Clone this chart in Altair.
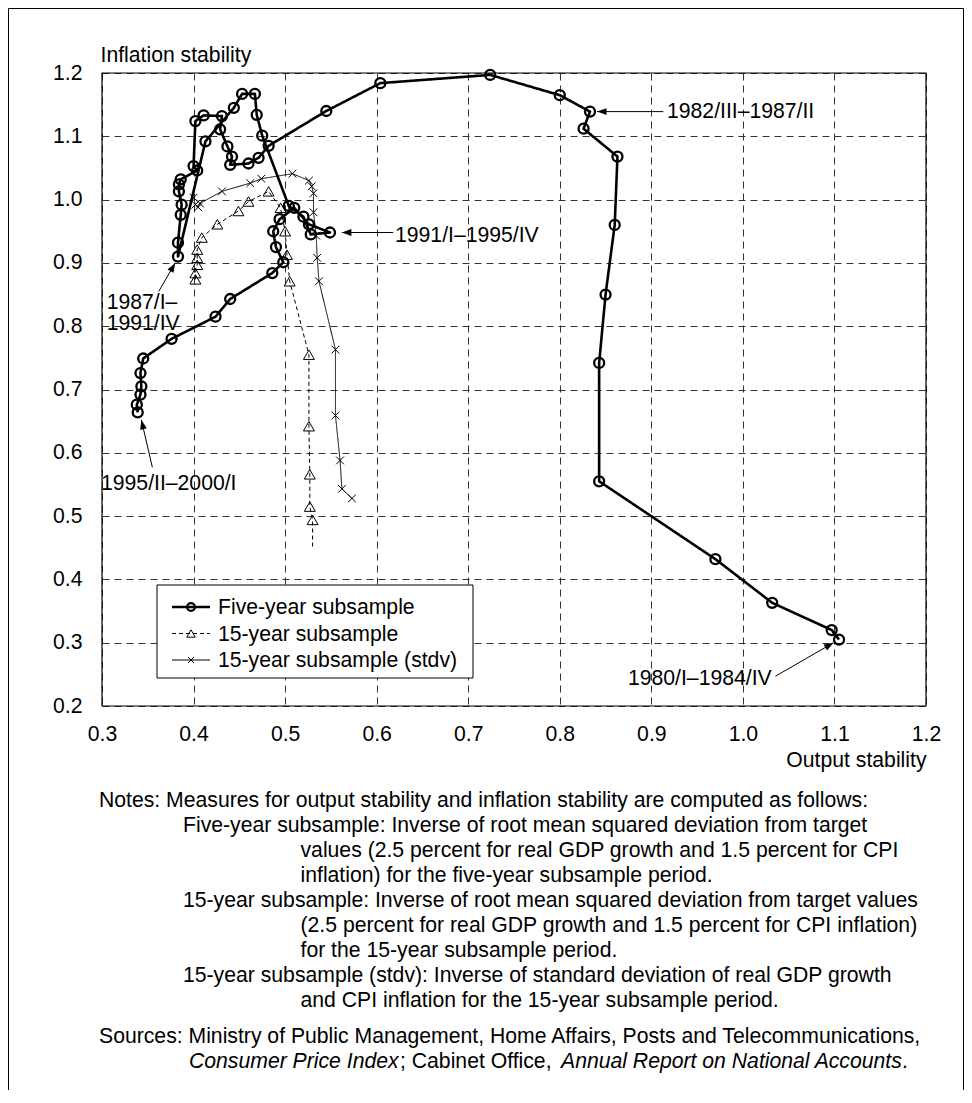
import math
import altair as alt
import pandas as pd

# ---------------- data ----------------
series_names = ["Five-year subsample", "15-year subsample", "15-year subsample (stdv)"]

five_x = [1.105, 1.097, 1.032, 0.970, 0.843, 0.843, 0.850, 0.860, 0.863, 0.826,
          0.833, 0.800, 0.724, 0.604, 0.545, 0.482, 0.471, 0.460, 0.440, 0.442,
          0.437, 0.429, 0.431, 0.411, 0.402, 0.400, 0.404, 0.386, 0.384, 0.384,
          0.387, 0.386, 0.383, 0.383, 0.413, 0.444, 0.453, 0.467, 0.469, 0.475,
          0.504, 0.520, 0.528, 0.549, 0.526, 0.510, 0.494, 0.487, 0.490, 0.498,
          0.486, 0.440, 0.424, 0.376, 0.345, 0.342, 0.343, 0.342, 0.338, 0.339]
five_y = [0.305, 0.320, 0.363, 0.432, 0.555, 0.742, 0.850, 0.960, 1.068, 1.112,
          1.139, 1.165, 1.197, 1.184, 1.140, 1.085, 1.066, 1.057, 1.055, 1.068,
          1.084, 1.111, 1.132, 1.133, 1.124, 1.053, 1.046, 1.032, 1.024, 1.013,
          0.992, 0.976, 0.932, 0.910, 1.092, 1.145, 1.167, 1.167, 1.134, 1.101,
          0.990, 0.973, 0.945, 0.948, 0.961, 0.987, 0.969, 0.950, 0.925, 0.901,
          0.884, 0.843, 0.815, 0.780, 0.749, 0.726, 0.705, 0.692, 0.676, 0.664]

f15_x = [0.402, 0.402, 0.404, 0.404, 0.404, 0.409, 0.426, 0.449, 0.460, 0.482,
         0.495, 0.500, 0.502, 0.505, 0.526, 0.526, 0.527, 0.527, 0.530]
f15_y = [0.874, 0.884, 0.897, 0.908, 0.921, 0.940, 0.961, 0.982, 0.997, 1.013,
         0.987, 0.950, 0.913, 0.871, 0.755, 0.642, 0.566, 0.515, 0.494]
f15_end_x = [0.530]
f15_end_y = [0.452]

sd_x = [0.400, 0.402, 0.405, 0.407, 0.431, 0.462, 0.474, 0.508, 0.526, 0.529,
        0.531, 0.531, 0.534, 0.535, 0.537, 0.555, 0.555, 0.560, 0.562, 0.573]
sd_y = [1.003, 0.992, 0.988, 0.994, 1.013, 1.026, 1.033, 1.041, 1.030, 1.021,
        1.010, 0.980, 0.943, 0.908, 0.871, 0.763, 0.659, 0.588, 0.543, 0.528]

x_tick_values = [0.3, 0.4, 0.5, 0.6, 0.7, 0.8, 0.9, 1.0, 1.1, 1.2]
y_tick_values = [0.2, 0.3, 0.4, 0.5, 0.6, 0.7, 0.8, 0.9, 1.0, 1.1, 1.2]

x_title = "Output stability"
y_title = "Inflation stability"

# annotations: label lines, arrow tail (x, y), arrow tip (x, y)
ann_labels = [["1982/III\u20131987/II"], ["1991/I\u20131995/IV"], ["1987/I\u2013", "1991/IV"],
              ["1980/I\u20131984/IV"], ["1995/II\u20132000/I"]]
ann_tail_x = [0.913, 0.618, 0.362, 1.0355, 0.355]
ann_tail_y = [1.139, 0.948, 0.855, 0.247, 0.577]
ann_tip_x = [0.8407, 0.562, 0.380, 1.099, 0.343]
ann_tip_y = [1.139, 0.948, 0.900, 0.300, 0.652]

notes_lines = [
    "Notes: Measures for output stability and inflation stability are computed as follows:",
    "Five-year subsample: Inverse of root mean squared deviation from target",
    "values (2.5 percent for real GDP growth and 1.5 percent for CPI",
    "inflation) for the five-year subsample period.",
    "15-year subsample: Inverse of root mean squared deviation from target values",
    "(2.5 percent for real GDP growth and 1.5 percent for CPI inflation)",
    "for the 15-year subsample period.",
    "15-year subsample (stdv): Inverse of standard deviation of real GDP growth",
    "and CPI inflation for the 15-year subsample period.",
    "Sources: Ministry of Public Management, Home Affairs, Posts and Telecommunications,",
]
source_parts = ["Consumer Price Index", "; Cabinet Office,", "Annual Report on National Accounts", "."]
source_italic = [True, False, True, False]

# ---------------- layout / style ----------------
FONT = "Liberation Sans"
FS = 21.2
W, H = 824, 633
PAD_L, PAD_T, PAD_R = 94, 65, 38
TOTAL_H = 1082

xs = alt.Scale(domain=[0.3, 1.2], nice=False, zero=False)
ys = alt.Scale(domain=[0.2, 1.2], nice=False, zero=False)


def px(v):
    return (v - 0.3) / 0.9 * W


def py(v):
    return (1.2 - v) / 1.0 * H


def one(text=""):
    return alt.Chart(pd.DataFrame({"t": [text]}))


x_axis = alt.Axis(values=x_tick_values, format=".1f", grid=True, gridDash=[7, 5], gridColor="#333",
                  gridWidth=1, domain=False, ticks=False, labelFontSize=FS, labelFont=FONT,
                  labelColor="black", labelPadding=17, labelFlush=False, labelOverlap=False,
                  title=x_title, titleFont=FONT, titleFontSize=FS, titleFontWeight="normal",
                  titleColor="black", titleAlign="right", titleX=W, titleY=60,
                  titleBaseline="alphabetic", titleAngle=0)
y_axis = alt.Axis(values=y_tick_values, format=".1f", grid=True, gridDash=[7, 5], gridColor="#333",
                  gridWidth=1, domain=False, ticks=False, labelFontSize=FS, labelFont=FONT,
                  labelColor="black", labelPadding=20, labelFlush=False, labelOverlap=False,
                  title=y_title, titleFont=FONT, titleFontSize=FS, titleFontWeight="normal",
                  titleColor="black", titleAlign="left", titleX=-2, titleY=-12,
                  titleBaseline="alphabetic", titleAngle=0)

X = alt.X("x:Q", scale=xs, axis=x_axis)
Y = alt.Y("y:Q", scale=ys, axis=y_axis)


def series_df(xv, yv, name):
    return pd.DataFrame({"series": name, "order": list(range(len(xv))), "x": xv, "y": yv})


line_dfs = [series_df(five_x, five_y, series_names[0]),
            series_df(f15_x + f15_end_x, f15_y + f15_end_y, series_names[1]),
            series_df(sd_x, sd_y, series_names[2])]
pt_dfs = [series_df(five_x, five_y, series_names[0]),
          series_df(f15_x, f15_y, series_names[1]),
          series_df(sd_x, sd_y, series_names[2])]

cross = "M-1,-1L1,1M-1,1L1,-1"
styles = [
    dict(lw=2.6, dash=[1, 0], shape="circle", size=100, pw=2.3),
    dict(lw=1.0, dash=[4, 3], shape="triangle-up", size=120, pw=1.0),
    dict(lw=1.0, dash=[1, 0], shape=cross, size=60, pw=1.0),
]

layers = []
for d, st in zip(line_dfs, styles):
    layers.append(alt.Chart(d).mark_line(color="black", strokeWidth=st["lw"], strokeDash=st["dash"],
                                         strokeJoin="round").encode(x=X, y=Y, order="order:Q"))
for d, st in zip(pt_dfs, styles):
    layers.append(alt.Chart(d).mark_point(shape=st["shape"], size=st["size"], filled=False, stroke="black",
                                          strokeWidth=st["pw"], opacity=1).encode(x=X, y=Y))

# plot border on top of grid
layers.append(one().mark_rect(fillOpacity=0, stroke="black", strokeWidth=1.2).encode(
    x=alt.value(0), x2=alt.value(W), y=alt.value(0), y2=alt.value(H)))

# arrows
arrow_df = pd.DataFrame({"x": ann_tail_x, "y": ann_tail_y, "x2": ann_tip_x, "y2": ann_tip_y})
layers.append(alt.Chart(arrow_df).mark_rule(color="black", strokeWidth=1).encode(
    x=X, y=Y, x2="x2:Q", y2="y2:Q"))
head = "M0,0L-1,-0.36L-1,0.36Z"
for tx, ty, hx, hy in zip(ann_tail_x, ann_tail_y, ann_tip_x, ann_tip_y):
    ang = math.degrees(math.atan2(py(hy) - py(ty), px(hx) - px(tx))) % 360
    layers.append(alt.Chart(pd.DataFrame({"x": [hx], "y": [hy]})).mark_point(
        shape=head, size=360, filled=True, color="black", opacity=1, angle=ang).encode(x=X, y=Y))

# annotation texts (pixel placement relative to plot)
ann_pos = [(565, 45.3, "left"), (293, 168.7, "left"), (4.7, 236, "left"),
           (669.7, 612, "right"), (-1, 417, "left")]
ann_lh = 21
for lines, (ax, ay, al) in zip(ann_labels, ann_pos):
    for k, t in enumerate(lines):
        layers.append(one(t).mark_text(font=FONT, fontSize=FS, align=al, baseline="alphabetic",
                                       color="black").encode(
            text="t:N", x=alt.value(ax), y=alt.value(ay + k * ann_lh)))

# legend
leg_box = (55, 512, 371, 605)
layers.append(one().mark_rect(fill="white", stroke="black", strokeWidth=1).encode(
    x=alt.value(leg_box[0]), x2=alt.value(leg_box[2]), y=alt.value(leg_box[1]), y2=alt.value(leg_box[3])))
leg_rows = [534, 560.5, 587]
for name, st, ry in zip(series_names, styles, leg_rows):
    layers.append(one().mark_rule(color="black", strokeWidth=st["lw"], strokeDash=st["dash"]).encode(
        x=alt.value(70), x2=alt.value(108), y=alt.value(ry)))
    layers.append(one().mark_point(shape=st["shape"], size=st["size"] * 0.6, filled=False, stroke="black",
                                   strokeWidth=st["pw"], opacity=1).encode(x=alt.value(89), y=alt.value(ry)))
    layers.append(one(name).mark_text(font=FONT, fontSize=FS, align="left", baseline="middle",
                                      color="black").encode(text="t:N", x=alt.value(116), y=alt.value(ry + 1)))

# notes
note_x = [-3, 81, 198.5, 198.5, 81, 198.5, 198.5, 81, 198.5, -3]
note_y = [734, 759, 784, 809, 834, 859, 884, 909, 934, 970]
for t, nx, ny in zip(notes_lines, note_x, note_y):
    layers.append(one(t).mark_text(font=FONT, fontSize=FS, align="left", baseline="alphabetic",
                                   color="black").encode(text="t:N", x=alt.value(nx), y=alt.value(ny)))
src_x = [87, 298, 459, 800]
for t, it, sx in zip(source_parts, source_italic, src_x):
    kw = dict(fontStyle="italic") if it else {}
    layers.append(one(t).mark_text(font=FONT, fontSize=FS, align="left", baseline="alphabetic",
                                   color="black", **kw).encode(text="t:N", x=alt.value(sx), y=alt.value(995)))

# outer frame (left, top, right)
fl, ft, fr, fb = -PAD_L + 0.5, -PAD_T + 0.5, W + PAD_R - 0.5, TOTAL_H - PAD_T
layers.append(one().mark_rule(color="black", strokeWidth=1).encode(
    x=alt.value(fl), y=alt.value(ft), y2=alt.value(fb)))
layers.append(one().mark_rule(color="black", strokeWidth=1).encode(
    x=alt.value(fr), y=alt.value(ft), y2=alt.value(fb)))
layers.append(one().mark_rule(color="black", strokeWidth=1).encode(
    x=alt.value(fl), x2=alt.value(fr), y=alt.value(ft)))

chart = alt.layer(*layers).properties(
    width=W, height=H,
    autosize=alt.AutoSizeParams(type="none"),
    padding={"left": PAD_L, "top": PAD_T, "right": PAD_R, "bottom": TOTAL_H - PAD_T - H},
).configure(font=FONT).configure_view(stroke=None)

chart.save("out.html", embed_options={"renderer": "svg", "actions": False})
